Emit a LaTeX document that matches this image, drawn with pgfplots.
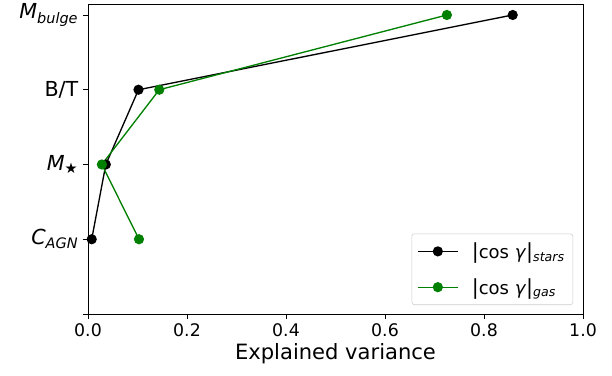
\documentclass[border=0pt]{standalone}
\usepackage{fontspec}
\setmainfont{DejaVu Sans}
\usepackage{pgfplots}
\pgfplotsset{compat=1.18}
\definecolor{mplgreen}{HTML}{008000}
\definecolor{legendgray}{HTML}{CCCCCC}
\newcommand{\sub}[1]{\textsubscript{\textit{#1}}}
\begin{document}
\begin{tikzpicture}
\begin{axis}[
  name=ax,
  scale only axis,
  width=371.25pt, height=232.5pt,
  xmin=0, xmax=1, ymin=-1, ymax=3.147,
  xtick={0,0.2,0.4,0.6,0.8,1},
  /pgf/number format/assume math mode=true,
  xticklabel style={/pgf/number format/fixed, /pgf/number format/fixed zerofill, /pgf/number format/precision=1, font=\fontsize{13}{15}\selectfont},
  ytick={-1,0,1,2,3},
  yticklabels={{},{\textit{C}\sub{AGN}},{\textit{M}\textsubscript{★}},{B/T},{\textit{M}\sub{bulge}}},
  yticklabel style={font=\fontsize{15.5}{18}\selectfont},
  tick align=outside, tick pos=left,
  major tick length=3.75pt,
  tick style={black, line width=0.6pt},
  axis line style={line width=0.6pt},
  xlabel={Explained variance},
  xlabel style={font=\fontsize{15.8}{18}\selectfont, yshift=2pt},
  legend cell align=left,
  legend style={at={(0.98,0.029)}, anchor=south east, draw=legendgray, fill=white, rounded corners=2pt,
    font=\fontsize{13.5}{16}\selectfont, inner xsep=4pt, inner ysep=4.5pt, row sep=9.5pt},
  legend image code/.code={\draw[mark repeat=2,mark phase=2,#1] plot coordinates {(0pt,0pt) (15pt,0pt) (30pt,0pt)}; \path (38pt,0pt);},
]
\addplot[black, line width=1pt, mark=*, mark size=3.3pt] coordinates {
  (0.0075,0) (0.036,1) (0.102,2) (0.858,3)
};
\addlegendentry{{\fontsize{15.5}{16}\selectfont|}cos \textit{γ}{\fontsize{15.5}{16}\selectfont|}\sub{stars}}
\addplot[mplgreen, line width=1pt, mark=*, mark size=3.3pt] coordinates {
  (0.103,0) (0.028,1) (0.144,2) (0.725,3)
};
\addlegendentry{{\fontsize{15.5}{16}\selectfont|}cos \textit{γ}{\fontsize{15.5}{16}\selectfont|}\sub{gas}}
\end{axis}
\pgfresetboundingbox
\path[use as bounding box] ([xshift=-66pt,yshift=-46.5pt]ax.south west) rectangle ([xshift=21.75pt,yshift=3pt]ax.north east);
\end{tikzpicture}
\end{document}
